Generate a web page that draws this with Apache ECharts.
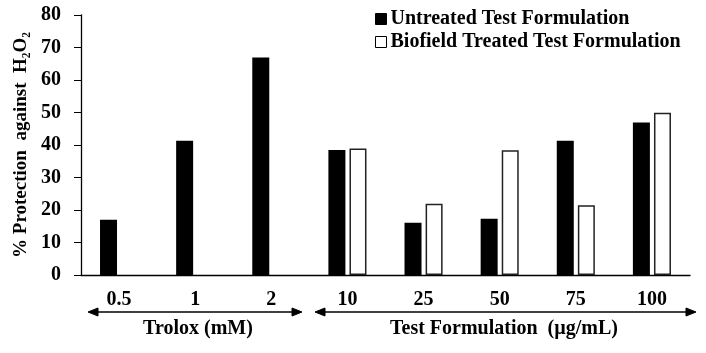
<!DOCTYPE html>
<html>
<head>
<meta charset="utf-8">
<script src="https://cdn.jsdelivr.net/npm/echarts@6/dist/echarts.min.js"></script>
<style>
	html, body { margin: 0; padding: 0; background: #fff; }
	#chart { width: 706px; height: 353px; }
</style>
</head>
<body>
<div id="chart"></div>
<script>
'use strict';

// data
var categories = ['0.5', '1', '2', '10', '25', '50', '75', '100'];
var untreated = [17, 41.3, 66.9, 38.5, 16.1, 17.3, 41.3, 46.9];
var treated = ['-', '-', '-', 38.9, 21.9, 38.4, 21.5, 49.9];
var seriesNames = ['Untreated Test Formulation', 'Biofield Treated Test Formulation'];
var yTicks = { min: 0, max: 80, interval: 10 };
var groupNames = ['Trolox (mM)', 'Test Formulation  (µg/mL)'];


(function(window, undefined){

	var FONT = '"Liberation Serif", "DejaVu Serif", serif';

	/**
	 * 画一个带箭头的横线
	 * @param {Number} x1
	 * @param {Number} x2
	 * @param {Number} y
	 * @return {Array}
	 */
	function arrow(x1, x2, y){
		var len = 10, h = 4,
				style = { fill: '#000', stroke: '#000' };
		return [
			{ type: 'line', shape: { x1: x1 + 4, y1: y, x2: x2 - 4, y2: y }, style: { stroke: '#000', lineWidth: 1.3 } },
			{ type: 'polygon', shape: { points: [[x1, y], [x1 + len, y - h], [x1 + len, y + h]] }, style: style },
			{ type: 'polygon', shape: { points: [[x2, y], [x2 - len, y - h], [x2 - len, y + h]] }, style: style },
		];
	}

	var graphics = [].concat(
		arrow(88, 302, 312),
		arrow(315, 696, 312),
		[
			{ type: 'text', x: 198, y: 329, style: { text: groupNames[0], font: 'bold 20px ' + FONT, fill: '#000', align: 'center', verticalAlign: 'middle' } },
			{ type: 'text', x: 504, y: 329, style: { text: groupNames[1], font: 'bold 20px ' + FONT, fill: '#000', align: 'center', verticalAlign: 'middle' } },
		]
	);

	var option = {
		animation: false,
		textStyle: { fontFamily: FONT, color: '#000' },
		grid: { left: 81, right: 16, top: 15, bottom: 78, containLabel: false },
		legend: {
			orient: 'vertical',
			left: 370,
			top: 4,
			itemWidth: 11,
			itemHeight: 11,
			itemGap: 3,
			icon: 'rect',
			textStyle: { fontFamily: FONT, fontWeight: 'bold', fontSize: 20, color: '#000', padding: [0, 0, 0, -1] },
			data: [
				{ name: seriesNames[0], itemStyle: { color: '#000', borderColor: '#000', borderWidth: 1 } },
				{ name: seriesNames[1], itemStyle: { color: '#fff', borderColor: '#000', borderWidth: 1 } },
			],
		},
		xAxis: {
			type: 'category',
			data: categories,
			axisLine: { lineStyle: { color: '#000', width: 1.3 } },
			axisTick: { show: false },
			axisLabel: { color: '#000', fontFamily: FONT, fontWeight: 'bold', fontSize: 20, margin: 15 },
		},
		yAxis: {
			type: 'value',
			min: yTicks.min,
			max: yTicks.max,
			interval: yTicks.interval,
			name: '% Protection  against  H\u2082O\u2082',
			nameLocation: 'middle',
			nameGap: 49,
			nameTextStyle: { color: '#000', fontFamily: FONT, fontWeight: 'bold', fontSize: 19 },
			axisLine: { show: true, lineStyle: { color: '#000', width: 1.3 } },
			axisTick: { show: true, inside: false, length: 7, lineStyle: { color: '#000' } },
			axisLabel: { color: '#000', fontFamily: FONT, fontWeight: 'bold', fontSize: 20, margin: 20 },
			splitLine: { show: false },
		},
		series: [
			{
				name: seriesNames[0],
				type: 'bar',
				data: untreated,
				barWidth: 17,
				barGap: '24%',
				itemStyle: { color: '#000' },
			},
			{
				name: seriesNames[1],
				type: 'bar',
				data: treated,
				barWidth: 17,
				barGap: '24%',
				itemStyle: { color: '#fff', borderColor: '#222', borderWidth: 1.5 },
			},
		],
		graphic: graphics,
	};

	echarts.init(document.getElementById('chart')).setOption(option);

})(typeof window !== 'undefined' ? window : this, undefined);
</script>
</body>
</html>
